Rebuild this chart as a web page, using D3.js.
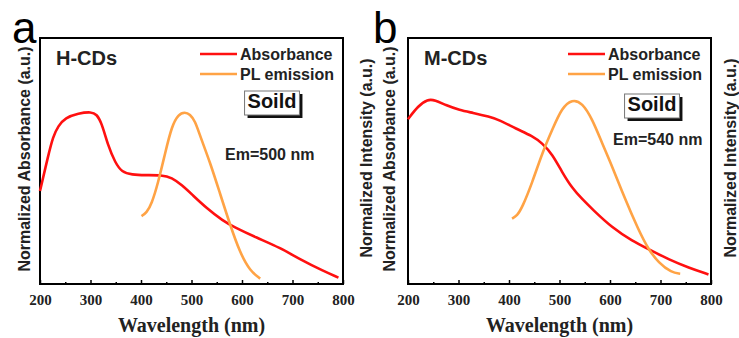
<!DOCTYPE html>
<html><head><meta charset="utf-8">
<script src="https://cdn.jsdelivr.net/npm/d3@7/dist/d3.min.js"></script>
<style>body{margin:0;background:#fff}svg{display:block}</style>
</head><body>
<svg id="c" width="739" height="338"></svg>
<script>
// ---- data (wavelength nm, normalized value 0..1 of frame height) ----
const xTicks = [200, 300, 400, 500, 600, 700, 800];
const minorTicks = [250, 350, 450, 550, 650, 750];

const absA_wl = [200, 216, 226, 236, 250, 276, 302, 312, 322, 335, 349, 362, 382, 408, 441, 461, 481, 500, 530, 563, 583, 629, 675, 715, 761, 791];
const absA_v  = [0.378, 0.52, 0.60, 0.642, 0.676, 0.694, 0.700, 0.690, 0.656, 0.561, 0.493, 0.455, 0.444, 0.442, 0.443, 0.433, 0.402, 0.366, 0.308, 0.256, 0.233, 0.188, 0.148, 0.100, 0.053, 0.026];
const plA_wl = [401, 411, 421, 434, 448, 461, 474, 487, 497, 507, 517, 537, 556, 576, 596, 616, 636];
const plA_v  = [0.276, 0.290, 0.325, 0.412, 0.534, 0.642, 0.690, 0.699, 0.690, 0.663, 0.602, 0.493, 0.371, 0.243, 0.127, 0.053, 0.022];

const absB_wl = [200, 220, 239, 253, 276, 302, 328, 361, 381, 414, 446, 466, 486, 505, 525, 545, 565, 604, 644, 677, 716, 756, 795];
const absB_v  = [0.670, 0.724, 0.751, 0.748, 0.726, 0.707, 0.696, 0.680, 0.667, 0.631, 0.602, 0.572, 0.527, 0.455, 0.390, 0.345, 0.304, 0.229, 0.175, 0.141, 0.100, 0.066, 0.039];
const plB_wl = [406, 416, 426, 446, 466, 486, 505, 525, 545, 565, 584, 604, 630, 656, 676, 696, 722, 739];
const plB_v  = [0.266, 0.278, 0.310, 0.412, 0.534, 0.629, 0.717, 0.751, 0.737, 0.670, 0.574, 0.480, 0.344, 0.222, 0.141, 0.087, 0.046, 0.042];

const panels = [
  {letter: "a", name: "H-CDs", em: "Em=500 nm", absW: absA_wl, absV: absA_v, plW: plA_wl, plV: plA_v,
   x0: 40, x1: 343, letterX: 12, leftLabX: 24, rightLabX: 366, emX: 225, emY: 160},
  {letter: "b", name: "M-CDs", em: "Em=540 nm", absW: absB_wl, absV: absB_v, plW: plB_wl, plV: plB_v,
   x0: 408, x1: 711, letterX: 373, leftLabX: 389, rightLabX: 730, emX: 613, emY: 145}
];

const svg = d3.select("#c");
const plotTop = 38, plotBottom = 284;
const RED = "#ff1010", ORANGE = "#ffa345";

panels.forEach(p => {
  const g = svg.append("g");
  const x = d3.scaleLinear().domain([200, 800]).range([p.x0, p.x1]);
  const y = d3.scaleLinear().domain([0, 1]).range([plotBottom, plotTop]);

  // bottom axis with inward ticks
  const ax = d3.axisBottom(x).tickValues(xTicks).tickSize(-4).tickFormat(d3.format("d"));
  const axG = g.append("g").attr("transform", `translate(0,${plotBottom})`).call(ax);
  axG.select(".domain").remove();
  axG.selectAll(".tick line").attr("stroke", "#000").attr("stroke-width", 1.5);
  axG.selectAll(".tick text").attr("y", 10).attr("dy", "0.71em")
    .style("font-family", "'Liberation Serif','Times New Roman',serif")
    .style("font-weight", "bold").style("font-size", "15px").attr("fill", "#222");
  const axm = d3.axisBottom(x).tickValues(minorTicks).tickSize(-2).tickFormat("");
  const amG = g.append("g").attr("transform", `translate(0,${plotBottom})`).call(axm);
  amG.select(".domain").remove();
  amG.selectAll(".tick line").attr("stroke", "#000").attr("stroke-width", 1.5);

  // frame
  g.append("rect").attr("x", p.x0).attr("y", plotTop).attr("width", p.x1 - p.x0).attr("height", plotBottom - plotTop)
    .attr("fill", "none").attr("stroke", "#000").attr("stroke-width", 2);

  // curves
  const line = d3.line().x(d => x(d[0])).y(d => y(d[1])).curve(d3.curveBasis);
  g.append("path").datum(p.absW.map((w, i) => [w, p.absV[i]]))
    .attr("d", line).attr("fill", "none").attr("stroke", RED).attr("stroke-width", 2.6);
  g.append("path").datum(p.plW.map((w, i) => [w, p.plV[i]]))
    .attr("d", line).attr("fill", "none").attr("stroke", ORANGE).attr("stroke-width", 2.6);

  const sans = "'Liberation Sans',Arial,sans-serif";

  // axis titles
  g.append("text").attr("x", (p.x0 + p.x1) / 2).attr("y", 332).attr("text-anchor", "middle")
    .style("font-family", "'Liberation Serif','Times New Roman',serif").style("font-weight", "bold")
    .style("font-size", "20px").attr("fill", "#222").text("Wavelength (nm)");
  g.append("text").attr("transform", `translate(${p.leftLabX},159) rotate(-90)`)
    .attr("text-anchor", "middle").attr("dominant-baseline", "central")
    .style("font-family", sans).style("font-weight", "bold").style("font-size", "16px")
    .attr("fill", "#222").text("Normalized Absorbance (a.u.)");
  g.append("text").attr("transform", `translate(${p.rightLabX},158) rotate(-90)`)
    .attr("text-anchor", "middle").attr("dominant-baseline", "central")
    .style("font-family", sans).style("font-weight", "bold").style("font-size", "16px")
    .attr("fill", "#222").text("Normalized Intensity (a.u.)");

  // panel letter
  g.append("text").attr("x", p.letterX).attr("y", 43).style("font-family", sans)
    .style("font-size", "44px").attr("fill", "#000").text(p.letter);

  // sample name
  g.append("text").attr("x", p.x0 + 16).attr("y", 65).style("font-family", sans).style("font-weight", "bold")
    .style("font-size", "20px").attr("fill", "#222").text(p.name);

  // legend
  const lx = p.x1 - 143;
  [["Absorbance", RED, 54], ["PL emission", ORANGE, 74]].forEach(([t, c, ly]) => {
    g.append("line").attr("x1", lx).attr("x2", lx + 37).attr("y1", ly).attr("y2", ly)
      .attr("stroke", c).attr("stroke-width", 2.6);
    g.append("text").attr("x", lx + 40).attr("y", ly + 5.5).style("font-family", sans).style("font-weight", "bold")
      .style("font-size", "16px").attr("fill", "#222").text(t);
  });

  // Soild box
  const sx = p.letter === "a" ? 272 : 652;
  const sg = g.append("g");
  const st = sg.append("text").attr("x", sx).attr("y", p.letter === "a" ? 108 : 111).attr("text-anchor", "middle")
    .style("font-family", sans).style("font-weight", "bold").style("font-size", "20px").attr("fill", "#111").text("Soild");
  const bb = st.node().getBBox();
  const bx = bb.x - 3, by = bb.y + 1, bw = bb.width + 6, bh = bb.height + 2;
  sg.insert("rect", "text").attr("x", bx + 3).attr("y", by + 3).attr("width", bw).attr("height", bh).attr("fill", "#111");
  sg.insert("rect", "text").attr("x", bx).attr("y", by).attr("width", bw).attr("height", bh)
    .attr("fill", "#fff").attr("stroke", "#777").attr("stroke-width", 1);

  // Em label
  g.append("text").attr("x", p.emX).attr("y", p.emY).style("font-family", sans).style("font-weight", "bold")
    .style("font-size", "16px").attr("fill", "#222").text(p.em);
});
</script>
</body></html>
